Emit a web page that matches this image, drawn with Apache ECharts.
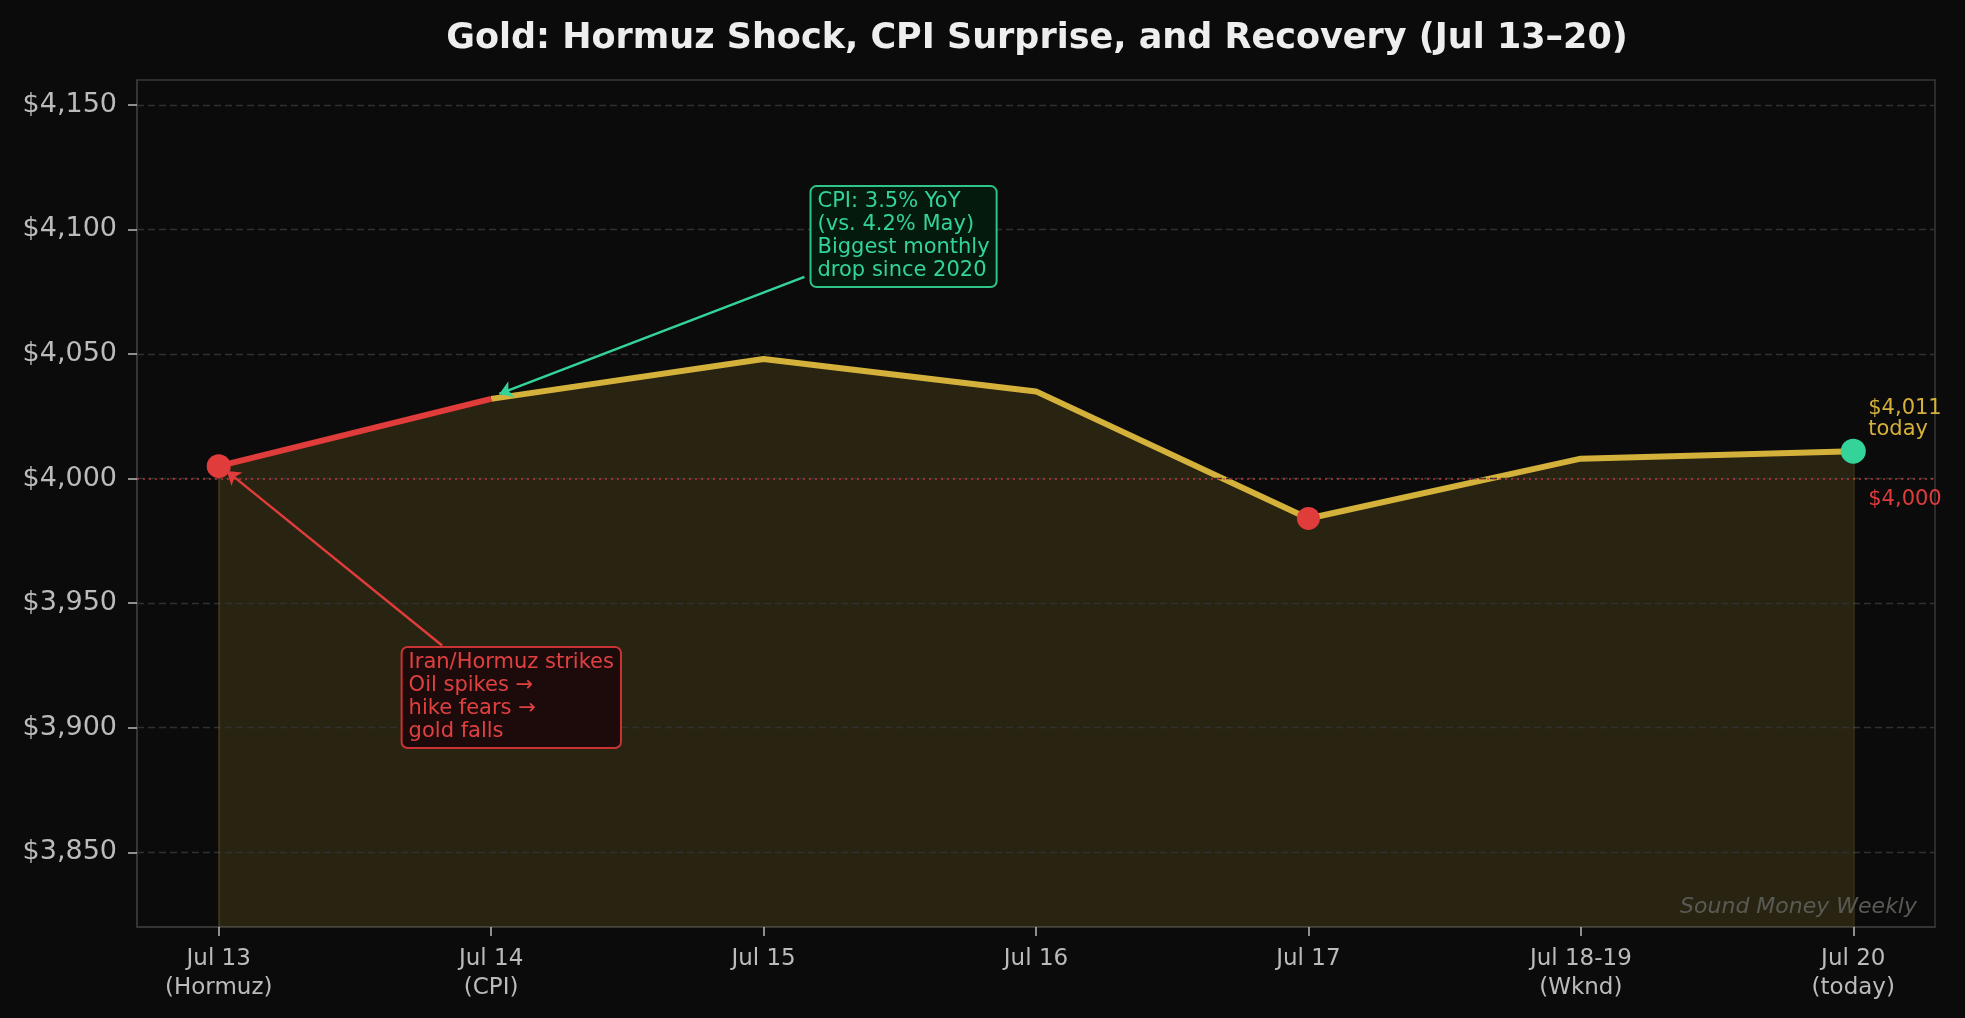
<!DOCTYPE html>
<html lang="en">
<head>
<meta charset="UTF-8">
<title>Gold Jul 13-20</title>
<script src="https://cdn.jsdelivr.net/npm/echarts@6/dist/echarts.min.js"></script>
<style>
    html, body { margin: 0; padding: 0; background: #0b0b0b; }
    #main { width: 1965px; height: 1018px; }
</style>
</head>
<body>
<div id="main"></div>
<script>
// data
var days = ['Jul 13\n(Hormuz)', 'Jul 14\n(CPI)', 'Jul 15', 'Jul 16', 'Jul 17', 'Jul 18-19\n(Wknd)', 'Jul 20\n(today)'];
var price = [4005, 4032, 4048, 4035, 3984, 4008, 4011];
var yTicks = [3850, 3900, 3950, 4000, 4050, 4100, 4150];
var shockIdx = [0, 1];       // red segment
var redDots = [0, 4];
var todayIdx = 6;
var floorLevel = 4000;
var yMin = 3820, yMax = 4160;

// annotations, in data coords (x = day index)
var cpiNote = ['CPI: 3.5% YoY', '(vs. 4.2% May)', 'Biggest monthly', 'drop since 2020'];
var cpiBox = [2.176, 4117];
var cpiArrow = [[2.15, 4081], [1.03, 4034]];
var hormuzNote = ['Iran/Hormuz strikes', 'Oil spikes \u2192', 'hike fears \u2192', 'gold falls'];
var hormuzBox = [0.675, 3932];
var hormuzArrow = [[0.82, 3933], [0.03, 4003]];
var todayLabel = [6.055, 4024];
var floorLabel = [6.055, 3991.5];

var gold = '#d4b13a', red = '#e03c3c', green = '#34d399';
var font = 'DejaVu Sans';

var chart = echarts.init(document.getElementById('main'));

var pts = price.map(function (v, i) { return [i, v]; });
var dayIdx = days.map(function (d, i) { return i; });

var gridLines = yTicks.map(function (v) {
    return { yAxis: v, lineStyle: { color: '#303030', type: [7, 4], width: 1.3 } };
});
gridLines.push({ yAxis: floorLevel, lineStyle: { color: 'rgba(224,60,60,0.6)', type: [2, 4], width: 2 } });

// faint edges of the filled area
var edgeStyle = { color: 'rgba(212,175,55,0.22)', width: 1.5, type: 'solid' };
var fillEdges = [0, price.length - 1].map(function (i) {
    return [{ coord: [i, yMin], lineStyle: edgeStyle }, { coord: pts[i] }];
});

var dots = redDots.map(function (i) {
    return { value: pts[i], symbolSize: i === 0 ? 24 : 23, itemStyle: { color: red, opacity: 1 } };
});
dots.push({ value: pts[todayIdx], symbolSize: 25, itemStyle: { color: green, opacity: 1 } });

var tickStyle = { color: '#bbbbbb', width: 1.5 };

var option = {
    backgroundColor: '#0b0b0b',
    animation: false,
    textStyle: { fontFamily: font },
    title: {
        text: 'Gold: Hormuz Shock, CPI Surprise, and Recovery (Jul 13\u201320)',
        left: 1032,
        textAlign: 'center',
        top: 16,
        textStyle: { color: '#eeeeee', fontSize: 35, fontWeight: 'bold', fontFamily: font }
    },
    grid: {
        left: 137, right: 30, top: 80, bottom: 91,
        show: true, backgroundColor: '#0b0b0b', borderColor: '#383838', borderWidth: 1.5
    },
    xAxis: {
        type: 'value', min: -0.3, max: 6.3,
        axisLine: { show: true, onZero: false, lineStyle: { color: '#383838', width: 1.5 } },
        splitLine: { show: false },
        axisTick: { show: true, inside: false, customValues: dayIdx, length: 9, lineStyle: tickStyle },
        axisLabel: {
            customValues: dayIdx,
            formatter: function (v) { return days[Math.round(v)]; },
            color: '#bbbbbb', fontSize: 23, lineHeight: 29, margin: 18, fontFamily: font
        }
    },
    yAxis: {
        type: 'value', min: yMin, max: yMax, position: 'left',
        axisLine: { show: true, onZero: false, lineStyle: { color: '#383838', width: 1.5 } },
        splitLine: { show: false },
        axisTick: { show: true, inside: false, customValues: yTicks, length: 9, lineStyle: tickStyle },
        axisLabel: {
            customValues: yTicks,
            formatter: function (v) { return '$' + v.toLocaleString('en-US'); },
            color: '#bbbbbb', fontSize: 27, margin: 20, fontFamily: font
        }
    },
    series: [
        {
            name: 'fill', type: 'line', data: pts, symbol: 'none', z: 2,
            lineStyle: { width: 0 },
            areaStyle: { color: 'rgba(212,175,55,0.15)', opacity: 1, origin: 'start' },
            markLine: { silent: true, symbol: 'none', label: { show: false }, data: gridLines.concat(fillEdges) }
        },
        {
            name: 'gold', type: 'line', data: pts.slice(shockIdx[1]), symbol: 'none', z: 3,
            lineStyle: { color: gold, width: 6 }
        },
        {
            name: 'shock', type: 'line', data: pts.slice(shockIdx[0], shockIdx[1] + 1), symbol: 'none', z: 4,
            lineStyle: { color: red, width: 6 }
        },
        {
            name: 'dots', type: 'scatter', data: dots, z: 5,
            markLine: {
                silent: true, symbol: ['none', 'arrow'], symbolSize: 13,
                label: { show: false },
                data: [
                    [{ coord: cpiArrow[0], lineStyle: { color: green, width: 2.5, type: 'solid' } }, { coord: cpiArrow[1] }],
                    [{ coord: hormuzArrow[0], lineStyle: { color: red, width: 2.5, type: 'solid' } }, { coord: hormuzArrow[1] }]
                ]
            }
        }
    ]
};
chart.setOption(option);

function px(p) { return chart.convertToPixel({ gridIndex: 0 }, p); }

var cpiAt = px(cpiBox), hzAt = px(hormuzBox), tdAt = px(todayLabel), flAt = px(floorLabel);

chart.setOption({
    graphic: [
        {
            type: 'text', x: cpiAt[0], y: cpiAt[1], z: 20,
            style: {
                text: cpiNote.join('\n'), fill: green, font: '21px "DejaVu Sans"', lineHeight: 23,
                align: 'left', verticalAlign: 'top',
                backgroundColor: '#031a0c', borderColor: '#2fc488', borderWidth: 2, borderRadius: 5,
                padding: [3, 6, 4, 6]
            }
        },
        {
            type: 'text', x: hzAt[0], y: hzAt[1], z: 20,
            style: {
                text: hormuzNote.join('\n'), fill: '#e04040', font: '21px "DejaVu Sans"', lineHeight: 23,
                align: 'left', verticalAlign: 'top',
                backgroundColor: '#1d0b0b', borderColor: '#c83434', borderWidth: 2, borderRadius: 5,
                padding: [3, 6, 4, 6]
            }
        },
        {
            type: 'text', x: tdAt[0], y: tdAt[1], z: 20,
            style: {
                text: '$' + price[todayIdx].toLocaleString('en-US') + '\ntoday', fill: gold,
                font: '21px "DejaVu Sans"', lineHeight: 21, align: 'left', verticalAlign: 'middle'
            }
        },
        {
            type: 'text', x: flAt[0], y: flAt[1], z: 20,
            style: {
                text: '$' + floorLevel.toLocaleString('en-US'), fill: red,
                font: '21px "DejaVu Sans"', align: 'left', verticalAlign: 'middle'
            }
        },
        {
            type: 'text', right: 48, bottom: 100, z: 20,
            style: {
                text: 'Sound Money Weekly', fill: '#5a5a55',
                font: 'italic 22px "DejaVu Sans"'
            }
        }
    ]
});
</script>
</body>
</html>
